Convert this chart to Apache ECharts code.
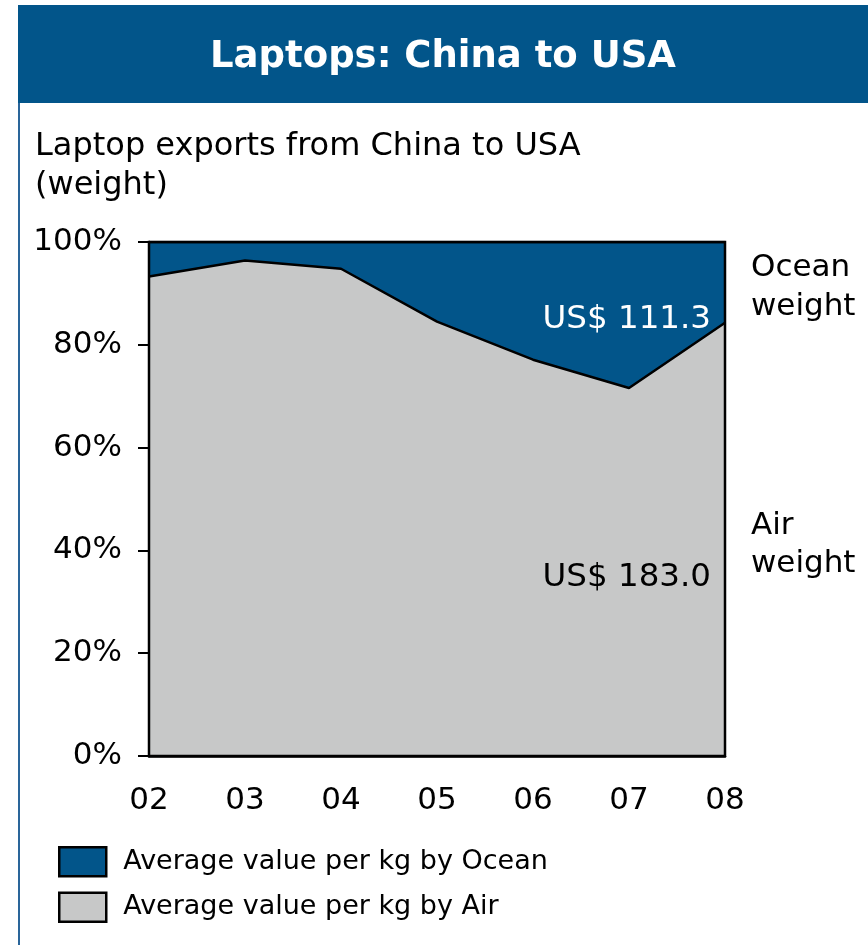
<!DOCTYPE html>
<html>
<head>
<meta charset="utf-8">
<script src="https://cdn.jsdelivr.net/npm/echarts@6/dist/echarts.min.js"></script>
<style>
html,body{margin:0;padding:0;background:#fff;}
#c{width:868px;height:945px;}
</style>
</head>
<body>
<div id="c"></div>
<script>
var years = ['02', '03', '04', '05', '06', '07', '08'];
var airShare = [93.3, 96.4, 94.8, 84.5, 77.1, 71.6, 84.3];
var oceanShare = [6.7, 3.6, 5.2, 15.5, 22.9, 28.4, 15.7];
var yTicks = [0, 20, 40, 60, 80, 100];
var oceanName = 'Average value per kg by Ocean';
var airName = 'Average value per kg by Air';
var oceanValueLabel = 'US$ 111.3';
var airValueLabel = 'US$ 183.0';

var BLUE = '#02558a';
var GREY = '#c7c8c8';
var FONT = '"DejaVu Sans", Verdana, sans-serif';

var chart = echarts.init(document.getElementById('c'), null, {renderer: 'canvas'});
chart.setOption({
  animation: false,
  backgroundColor: '#fff',
  textStyle: {fontFamily: FONT, color: '#000'},
  grid: {left: 149, top: 242, width: 576, height: 514, show: true, borderColor: '#000', borderWidth: 2.5, backgroundColor: 'transparent', z: 5},
  xAxis: {
    type: 'category', data: years, boundaryGap: false,
    axisLine: {show: true, lineStyle: {color: '#000', width: 2.5}},
    axisTick: {show: false},
    axisLabel: {fontSize: 31, color: '#000', margin: 29, fontFamily: FONT},
    splitLine: {show: false}
  },
  yAxis: {
    type: 'value', min: yTicks[0], max: yTicks[yTicks.length - 1], interval: 20,
    axisLine: {show: true, lineStyle: {color: '#000', width: 2.5}},
    axisTick: {show: true, length: 11, lineStyle: {color: '#000', width: 2}},
    axisLabel: {fontSize: 31, color: '#000', margin: 27, fontFamily: FONT, formatter: '{value}%'},
    splitLine: {show: false}
  },
  legend: {
    orient: 'vertical', left: 53, top: 841,
    itemWidth: 47, itemHeight: 29, itemGap: 14,
    icon: 'rect',
    textStyle: {fontSize: 27, color: '#000', fontFamily: FONT, padding: [0, 0, 0, 12]},
    selectedMode: false,
    data: [
      {name: oceanName, itemStyle: {color: BLUE, borderColor: '#000', borderWidth: 2.5}},
      {name: airName, itemStyle: {color: GREY, borderColor: '#000', borderWidth: 2.5}}
    ]
  },
  series: [
    {
      name: airName, type: 'line', stack: 'total', data: airShare,
      symbol: 'none', z: 3,
      itemStyle: {color: GREY},
      lineStyle: {color: '#000', width: 2.5},
      areaStyle: {color: GREY, opacity: 1}
    },
    {
      name: oceanName, type: 'line', stack: 'total', data: oceanShare,
      symbol: 'none', z: 2,
      itemStyle: {color: BLUE},
      lineStyle: {color: '#000', width: 2.5},
      areaStyle: {color: BLUE, opacity: 1}
    }
  ],
  graphic: [
    {type: 'rect', shape: {x: 18, y: 5, width: 850, height: 98}, style: {fill: BLUE}, z: 1},
    {type: 'rect', shape: {x: 18, y: 103, width: 2, height: 842}, style: {fill: '#2a659a'}, z: 1},
    {type: 'text', x: 443, y: 57.5, style: {text: 'Laptops: China to USA', fill: '#fff', font: 'bold 37px ' + FONT, align: 'center', verticalAlign: 'middle'}, z: 2},
    {type: 'text', x: 35, y: 147, style: {text: 'Laptop exports from China to USA', fill: '#000', font: '32px ' + FONT, align: 'left', verticalAlign: 'middle'}, z: 2},
    {type: 'text', x: 35, y: 186, style: {text: '(weight)', fill: '#000', font: '32px ' + FONT, align: 'left', verticalAlign: 'middle'}, z: 2},
    {type: 'text', x: 711, y: 319.5, style: {text: oceanValueLabel, fill: '#fff', font: '32.5px ' + FONT, align: 'right', verticalAlign: 'middle'}, z: 20},
    {type: 'text', x: 711, y: 577.5, style: {text: airValueLabel, fill: '#000', font: '32.5px ' + FONT, align: 'right', verticalAlign: 'middle'}, z: 20},
    {type: 'text', x: 751, y: 268, style: {text: 'Ocean', fill: '#000', font: '31px ' + FONT, align: 'left', verticalAlign: 'middle'}, z: 2},
    {type: 'text', x: 751, y: 306.5, style: {text: 'weight', fill: '#000', font: '31px ' + FONT, align: 'left', verticalAlign: 'middle'}, z: 2},
    {type: 'text', x: 751, y: 526, style: {text: 'Air', fill: '#000', font: '31px ' + FONT, align: 'left', verticalAlign: 'middle'}, z: 2},
    {type: 'text', x: 751, y: 563.5, style: {text: 'weight', fill: '#000', font: '31px ' + FONT, align: 'left', verticalAlign: 'middle'}, z: 2}
  ]
});
</script>
</body>
</html>
